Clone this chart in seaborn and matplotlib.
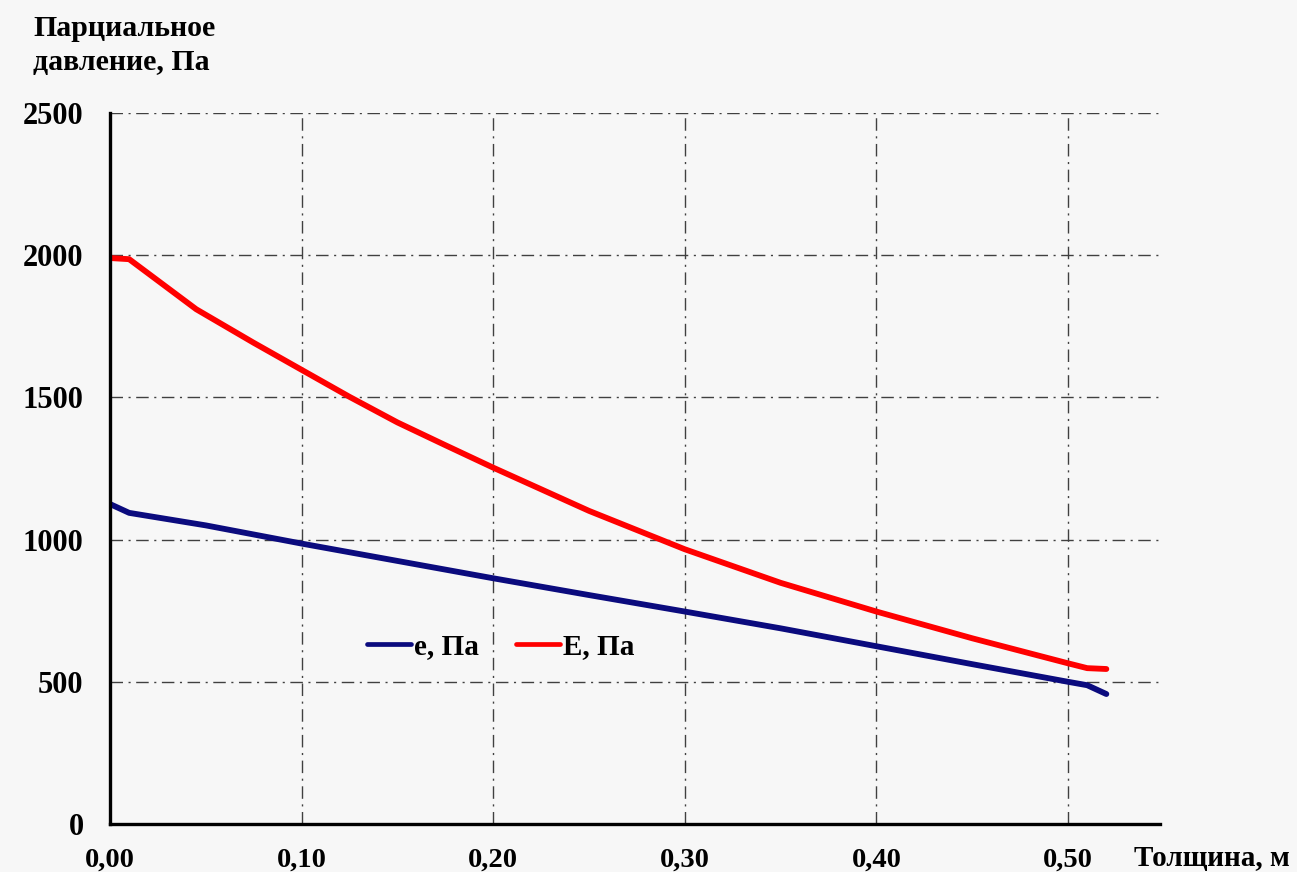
import numpy as np
import pandas as pd
import matplotlib
matplotlib.use("Agg")
import matplotlib.pyplot as plt
from matplotlib.ticker import FuncFormatter, MultipleLocator
import seaborn as sns

# === Data ===
x_e = [0.00, 0.01, 0.05, 0.10, 0.15, 0.20, 0.25, 0.30, 0.35, 0.40, 0.45, 0.50, 0.51, 0.52]
e_vals = [1125, 1094, 1050, 986, 925, 864, 805, 747, 688, 625, 562, 500, 488, 457]
x_E = [0.00, 0.01, 0.045, 0.075, 0.10, 0.125, 0.15, 0.175, 0.20, 0.25, 0.30,
       0.35, 0.40, 0.45, 0.50, 0.51, 0.52]
E_vals = [1990, 1986, 1810, 1692, 1597, 1502, 1412, 1332, 1253, 1101, 966,
          848, 747, 653, 565, 548, 545]
series_names = ["e, Па", "E, Па"]
series_colors = ["#0b0b7e", "#ff0000"]

BG = "#f7f7f7"

df = pd.DataFrame({
    "x": x_e + x_E,
    "p": e_vals + E_vals,
    "series": [series_names[0]] * len(x_e) + [series_names[1]] * len(x_E),
})

sns.set_style("white")
plt.rcParams["font.family"] = ["Liberation Serif", "DejaVu Serif"]
plt.rcParams["font.weight"] = "bold"
plt.rcParams["text.color"] = "black"
plt.rcParams["xtick.color"] = "black"
plt.rcParams["ytick.color"] = "black"
plt.rcParams["axes.labelcolor"] = "black"

fig = plt.figure(figsize=(12.97, 8.72), dpi=100, facecolor=BG)
ax = fig.add_axes([110 / 1297, 1 - 824 / 872, 1050 / 1297, 711 / 872])
ax.set_facecolor(BG)

sns.lineplot(data=df, x="x", y="p", hue="series", palette=series_colors,
             estimator=None, sort=False, linewidth=4.2, ax=ax, legend=False)

ax.set_xlim(0, 0.548)
ax.set_ylim(0, 2500)
ax.xaxis.set_major_locator(MultipleLocator(0.1))
ax.yaxis.set_major_locator(MultipleLocator(500))
ax.xaxis.set_major_formatter(FuncFormatter(lambda v, _: f"{v:.2f}".replace(".", ",")))
ax.yaxis.set_major_formatter(FuncFormatter(lambda v, _: f"{v:.0f}"))

# grid: dash-dot
ax.grid(True, color="#404040", linewidth=1.0, linestyle=(0, (9, 4, 1.5, 4)))
ax.set_axisbelow(True)

for s in ["top", "right"]:
    ax.spines[s].set_visible(False)
for s in ["left", "bottom"]:
    ax.spines[s].set_linewidth(2.4)
    ax.spines[s].set_color("black")

ax.tick_params(axis="both", direction="out", length=7, width=2.4, color="black",
               labelcolor="black")
ax.tick_params(axis="y", pad=12, labelsize=22)
ax.tick_params(axis="x", pad=10, labelsize=20.5)
for lab in ax.get_xticklabels() + ax.get_yticklabels():
    lab.set_fontweight("bold")

ax.set_xlabel("")
ax.set_ylabel("")

# legend
handles = [plt.Line2D([], [], color=c, linewidth=3.4) for c in series_colors]
ax.legend(handles, series_names, loc="center", bbox_to_anchor=(0.372, 0.249),
          ncol=2, frameon=False, handlelength=1.5, handletextpad=0.1,
          columnspacing=1.3, labelcolor="black",
          prop={"size": 21, "weight": "bold"})

# axis titles
fig.text(33 / 1297, 1 - 15 / 872, "Парциальное\nдавление, Па", ha="left", va="top",
         fontsize=21.5, fontweight="bold", linespacing=1.35, color="black")
fig.text(1134 / 1297, 1 - 858 / 872, "Толщина, м", ha="left", va="center",
         fontsize=21, fontweight="bold", color="black")

fig.savefig("out.png", dpi=100, facecolor=BG)
